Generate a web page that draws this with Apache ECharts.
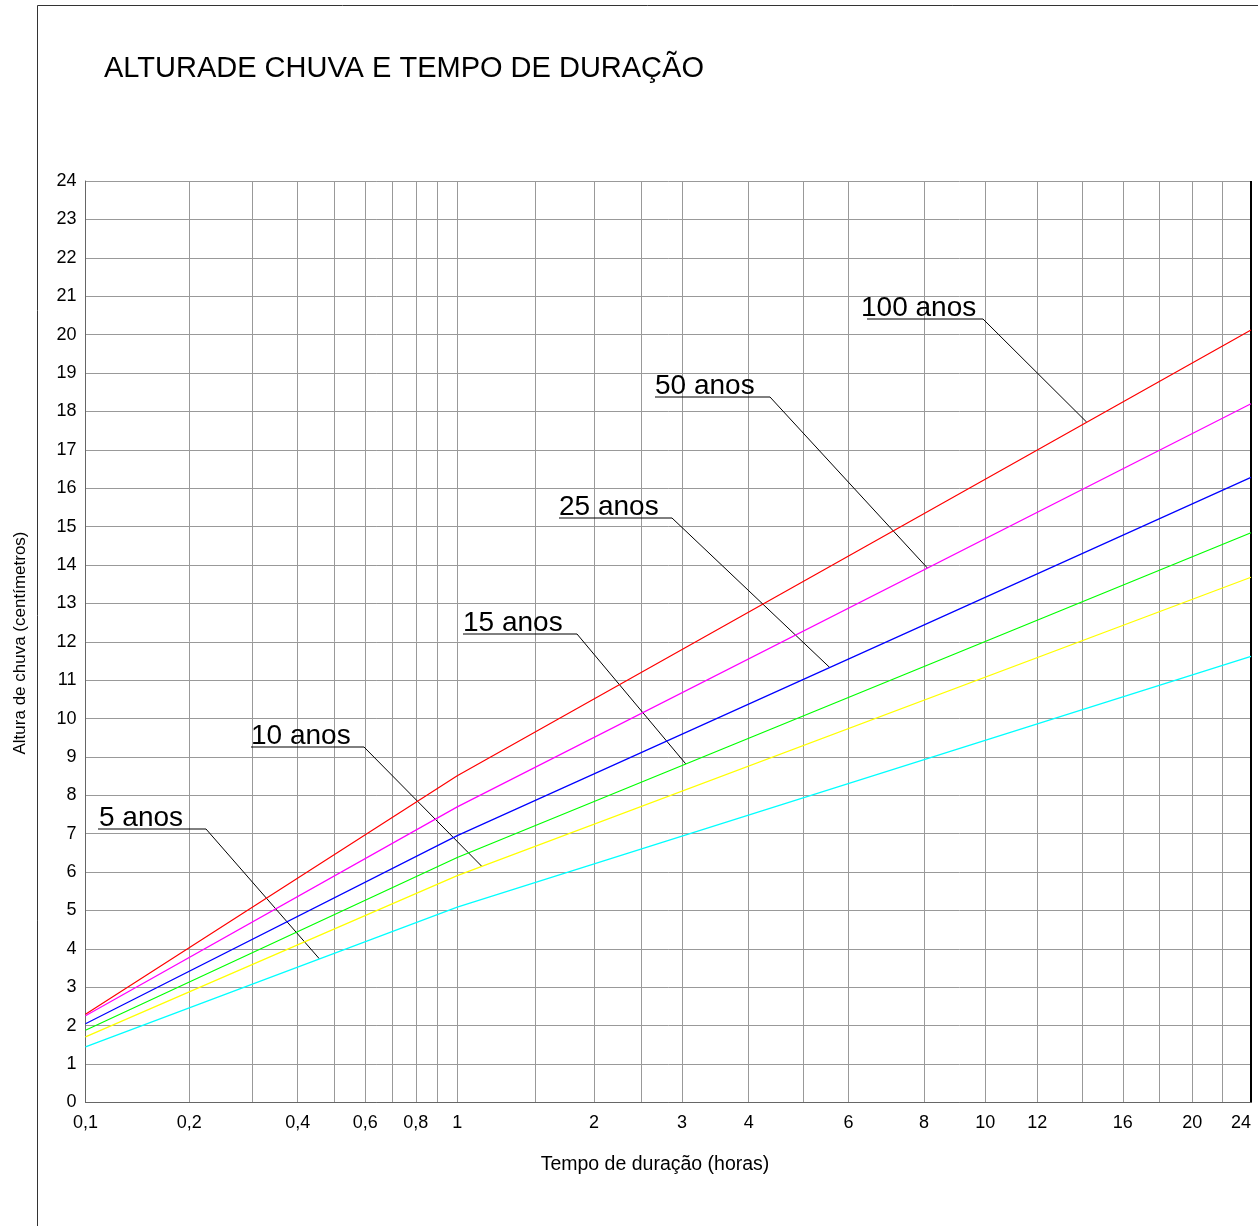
<!DOCTYPE html>
<html><head><meta charset="utf-8">
<script src="https://cdn.jsdelivr.net/npm/echarts@6/dist/echarts.min.js"></script>
<style>html,body{margin:0;padding:0;background:#fff}#c{width:1258px;height:1226px}</style>
</head><body><div id="c"></div>
<script>
// ---- data ----
const durations = [0.1, 1, 24];
const s100 = [2.30, 8.51, 20.12];
const s50  = [2.26, 7.70, 18.20];
const s25  = [2.05, 6.95, 16.28];
const s15  = [1.88, 6.38, 14.84];
const s10  = [1.71, 5.91, 13.68];
const s5   = [1.45, 5.09, 11.62];
const seriesNames = ['100 anos', '50 anos', '25 anos', '15 anos', '10 anos', '5 anos'];
const labelDurations = [0.1, 0.2, 0.4, 0.6, 0.8, 1, 2, 3, 4, 6, 8, 10, 12, 16, 20, 24];
const labelTexts = ['0,1', '0,2', '0,4', '0,6', '0,8', '1', '2', '3', '4', '6', '8', '10', '12', '16', '20', '24'];
const gridDurations = [0.1, 0.2, 0.3, 0.4, 0.5, 0.6, 0.7, 0.8, 0.9, 1, 1.5, 2, 2.5, 3, 4, 5, 6, 8, 10, 12, 14, 16, 18, 20, 22, 24];
const leaderDurations = [14.2, 8.1, 5.57, 3.05, 1.14, 0.457];

// ---- styles / layout ----
const colors = ['#ff0000', '#ff00ff', '#0000ff', '#00ff00', '#ffff00', '#00ffff'];
const annLayout = [
  {x: 861, uy: 319, ux0: 867, ux1: 983},
  {x: 655, uy: 397, ux0: 655, ux1: 770},
  {x: 559, uy: 518, ux0: 559, ux1: 672},
  {x: 463, uy: 634, ux0: 463, ux1: 577},
  {x: 251, uy: 747, ux0: 251, ux1: 364},
  {x: 99,  uy: 829, ux0: 98,  ux1: 206}
];
const FONT = 'Liberation Sans, Arial, sans-serif';

// duration scale of the paper (piecewise)
function dur(t) {
  if (t <= 1) return 371.8 * (0.8836 * Math.log10(10 * t) + 0.1293 * (t - 0.1));
  return 371.8 + 1028.4 * (Math.pow(t, 0.18) - 1);
}
const allSeries = [s100, s50, s25, s15, s10, s5];
const xMax = dur(24);

const chart = echarts.init(document.getElementById('c'), null, {renderer: 'canvas'});
const option = {
  animation: false,
  backgroundColor: '#fff',
  title: {
    text: 'ALTURADE CHUVA E TEMPO DE DURAÇÃO',
    left: 99, top: 49,
    textStyle: {fontFamily: FONT, fontSize: 29, fontWeight: 'normal', color: '#000'}
  },
  grid: {left: 85.5, right: 7, top: 181, bottom: 123.5, containLabel: false},
  xAxis: {
    type: 'value', min: 0, max: xMax,
    axisLine: {show: true, lineStyle: {color: '#666', width: 1}},
    axisTick: {show: false, customValues: gridDurations.map(dur)},
    splitLine: {show: true, lineStyle: {color: '#999', width: 1}},
    axisLabel: {
      customValues: labelDurations.map(dur),
      alignMaxLabel: 'right',
      margin: 12,
      fontFamily: FONT, fontSize: 18, color: '#000',
      formatter: function (v) {
        for (let i = 0; i < labelDurations.length; i++) {
          if (Math.abs(dur(labelDurations[i]) - v) < 0.5) return labelTexts[i];
        }
        return '';
      }
    }
  },
  yAxis: {
    type: 'value', min: 0, max: 24, interval: 1,
    axisLine: {show: true, lineStyle: {color: '#666', width: 1}},
    axisTick: {show: false},
    splitLine: {show: true, lineStyle: {color: '#999', width: 1}},
    axisLabel: {margin: 9, fontFamily: FONT, fontSize: 18, color: '#000'}
  },
  series: allSeries.map((vals, i) => ({
    name: seriesNames[i], type: 'line', symbol: 'none', silent: true,
    lineStyle: {color: colors[i], width: 1.2},
    data: durations.map((t, j) => [dur(t), vals[j]])
  }))
};
chart.setOption(option);

function valueAt(vals, t) {
  const x = dur(t);
  for (let j = 0; j < durations.length - 1; j++) {
    const x0 = dur(durations[j]), x1 = dur(durations[j + 1]);
    if (x >= x0 && x <= x1) return vals[j] + (vals[j + 1] - vals[j]) * (x - x0) / (x1 - x0);
  }
  return vals[vals.length - 1];
}

const g = [];
// outer frame
g.push({type: 'line', shape: {x1: 37.5, y1: 5.5, x2: 1258, y2: 5.5}, style: {stroke: '#333', lineWidth: 1}});
g.push({type: 'line', shape: {x1: 37.5, y1: 5.5, x2: 37.5, y2: 1226}, style: {stroke: '#333', lineWidth: 1}});
// right plot border
const pTop = chart.convertToPixel({gridIndex: 0}, [xMax, 24]);
const pBot = chart.convertToPixel({gridIndex: 0}, [xMax, 0]);
g.push({type: 'line', shape: {x1: pTop[0], y1: pTop[1], x2: pBot[0], y2: pBot[1]}, style: {stroke: '#000', lineWidth: 2}});
// axis names
g.push({type: 'text', x: 655, y: 1165, style: {text: 'Tempo de duração (horas)', font: '19.5px ' + FONT, fill: '#000', textAlign: 'center', textVerticalAlign: 'middle'}});
g.push({type: 'text', x: 20, y: 643, rotation: Math.PI / 2, style: {text: 'Altura de chuva (centímetros)', font: '17px ' + FONT, fill: '#000', textAlign: 'center', textVerticalAlign: 'middle'}});
// annotations
annLayout.forEach((a, i) => {
  const v = valueAt(allSeries[i], leaderDurations[i]);
  const p = chart.convertToPixel({gridIndex: 0}, [dur(leaderDurations[i]), v]);
  g.push({type: 'text', x: a.x, y: a.uy - 11, style: {text: seriesNames[i], font: '28px ' + FONT, fill: '#000', textAlign: 'left', textVerticalAlign: 'middle'}});
  g.push({type: 'polyline', shape: {points: [[a.ux0, a.uy], [a.ux1, a.uy], [p[0], p[1]]]}, style: {stroke: '#000', lineWidth: 1, fill: null}});
});
chart.setOption({graphic: g});
</script>
</body></html>
